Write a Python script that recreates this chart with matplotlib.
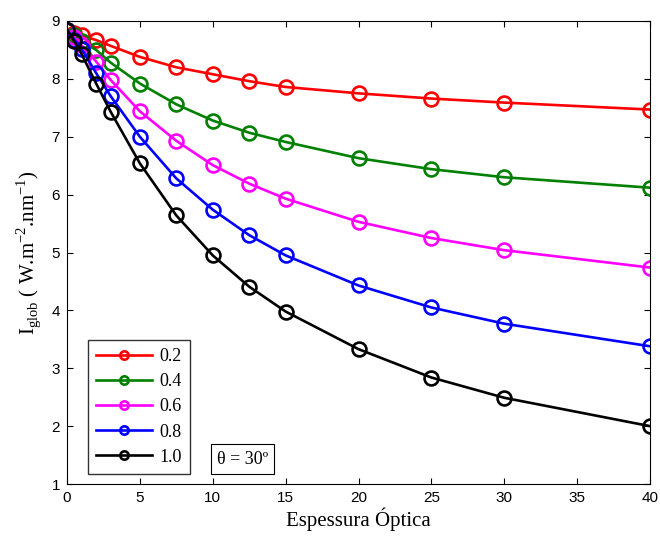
import matplotlib
matplotlib.use("Agg")
import matplotlib.pyplot as plt

# Optical thickness sampling points
espessura = [0, 0.5, 1, 2, 3, 5, 7.5, 10, 12.5, 15, 20, 25, 30, 40]

# Global irradiance for each albedo value
albedo_labels = ["0.2", "0.4", "0.6", "0.8", "1.0"]
i_02 = [8.85, 8.80, 8.75, 8.67, 8.57, 8.38, 8.20, 8.08, 7.96, 7.86, 7.75, 7.66, 7.59, 7.47]
i_04 = [8.85, 8.75, 8.65, 8.50, 8.28, 7.92, 7.56, 7.28, 7.07, 6.91, 6.63, 6.44, 6.30, 6.12]
i_06 = [8.85, 8.72, 8.58, 8.30, 7.98, 7.44, 6.93, 6.51, 6.19, 5.93, 5.53, 5.25, 5.04, 4.74]
i_08 = [8.85, 8.68, 8.52, 8.10, 7.70, 7.00, 6.28, 5.74, 5.30, 4.95, 4.43, 4.05, 3.77, 3.38]
i_10 = [8.85, 8.65, 8.43, 7.92, 7.43, 6.54, 5.64, 4.95, 4.41, 3.98, 3.33, 2.84, 2.49, 2.00]
series = [i_02, i_04, i_06, i_08, i_10]
colors = ["#ff0000", "#008000", "#ff00ff", "#0000ff", "#000000"]

x_ticks = [0, 5, 10, 15, 20, 25, 30, 35, 40]
y_ticks = [1, 2, 3, 4, 5, 6, 7, 8, 9]

fig = plt.figure(figsize=(6.6, 5.37), dpi=100)
ax = fig.add_axes([67 / 660, 1 - 484 / 537, (650 - 67) / 660, (484 - 21) / 537])

for vals, col, lab in zip(series, colors, albedo_labels):
    ax.plot(espessura, vals, color=col, lw=1.9, marker="o", ms=10,
            mfc="none", mec=col, mew=1.9, label=lab)

ax.set_xlim(0, 40)
ax.set_ylim(1, 9)
ax.set_xticks(x_ticks)
ax.set_yticks(y_ticks)
ax.tick_params(direction="in", top=True, right=True, length=4, width=0.8,
               labelsize=11, pad=5)
for lbl in ax.get_xticklabels() + ax.get_yticklabels():
    lbl.set_fontfamily("Liberation Sans")
for sp in ax.spines.values():
    sp.set_linewidth(0.8)

serif = "Liberation Serif"
ax.set_xlabel("Espessura Óptica", fontfamily=serif, fontsize=15, labelpad=2)
ax.set_ylabel(r"I$_{\mathregular{glob}}$ ( W.m$^{\mathregular{-2}}$.nm$^{\mathregular{-1}}$)",
              fontfamily=serif, fontsize=15, labelpad=6)

leg = ax.legend(loc="lower left", bbox_to_anchor=(0.036, 0.022), borderaxespad=0,
                prop={"family": serif, "size": 13}, frameon=True, fancybox=False,
                handlelength=3.1, borderpad=0.45, labelspacing=0.45, handletextpad=0.4,
                markerscale=0.6)
leg.get_frame().set_edgecolor("black")
leg.get_frame().set_linewidth(1.0)

ax.text(0.257, 0.035, "θ = 30º", transform=ax.transAxes, fontfamily=serif, fontsize=13,
        va="bottom", ha="left",
        bbox=dict(boxstyle="square,pad=0.35", fc="white", ec="black", lw=0.8))

fig.savefig("out.png", dpi=100, facecolor="white")
